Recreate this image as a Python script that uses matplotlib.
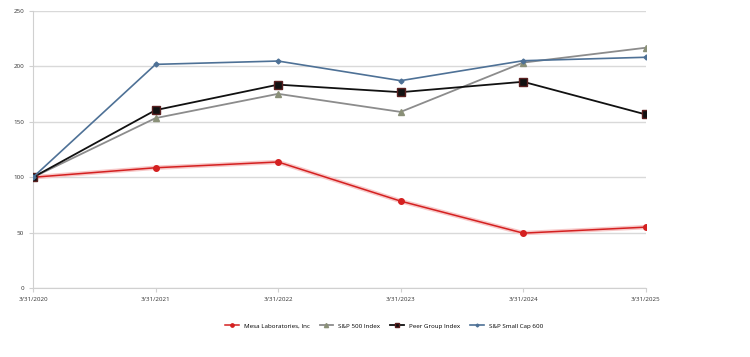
import matplotlib
matplotlib.use("Agg")
import matplotlib.pyplot as plt

dates = ["3/31/2020", "3/31/2021", "3/31/2022", "3/31/2023", "3/31/2024", "3/31/2025"]
mesa = [100, 108.6, 113.8, 78.5, 49.6, 55.0]
sp500 = [100, 153.4, 175.3, 159.0, 203.5, 216.9]
peer = [100, 160.6, 183.6, 176.8, 186.2, 156.7]
smallcap = [100, 201.9, 204.9, 187.2, 205.2, 208.3]

plt.rcParams['font.family'] = ['Open Sans', 'DejaVu Sans']

fig = plt.figure(figsize=(7.5, 3.57), dpi=100)
ax = fig.add_axes([0.044, 0.193, 0.817, 0.776])
x = list(range(len(dates)))

ax.plot(x, mesa, color="#f7c8c8", lw=3.2, zorder=2, solid_capstyle="round")
l1, = ax.plot(x, mesa, color="#d42020", lw=1.1, marker="o", ms=4, label="Mesa Laboratories, Inc", zorder=3)
l2, = ax.plot(x, sp500, color="#8c8c8c", lw=1.3, marker="^", ms=5, mfc="#8a9078", mec="#8a9078", label="S&P 500 Index", zorder=3)
l3, = ax.plot(x, peer, color="#111111", lw=1.3, marker="s", ms=5.5, mfc="#111111", mec="#5a2020", label="Peer Group Index", zorder=4)
l4, = ax.plot(x, smallcap, color="#4e7196", lw=1.2, marker="D", ms=2.5, label="S&P Small Cap 600", zorder=5)

ax.set_xlim(0, 5)
ax.set_ylim(0, 250)
ax.set_yticks([0, 50, 100, 150, 200, 250])
ax.set_xticks(x)
ax.set_xticklabels(dates)
ax.tick_params(axis="both", labelsize=4.5, colors="#d0d0d0", labelcolor="#333333", length=3, width=0.8)
ax.yaxis.grid(True, color="#d9d9d9", lw=1)
ax.set_axisbelow(True)
for s in ["top", "right"]:
    ax.spines[s].set_visible(False)
for s in ["left", "bottom"]:
    ax.spines[s].set_color("#d0d0d0")
    ax.spines[s].set_linewidth(0.8)

fig.legend(handles=[l1, l2, l3, l4], loc="center", bbox_to_anchor=(0.512, 0.087), ncol=4,
           frameon=False, fontsize=4.5, handlelength=2.2, columnspacing=1.6, markerscale=0.6)

fig.savefig("out.png", dpi=100, facecolor="white")
